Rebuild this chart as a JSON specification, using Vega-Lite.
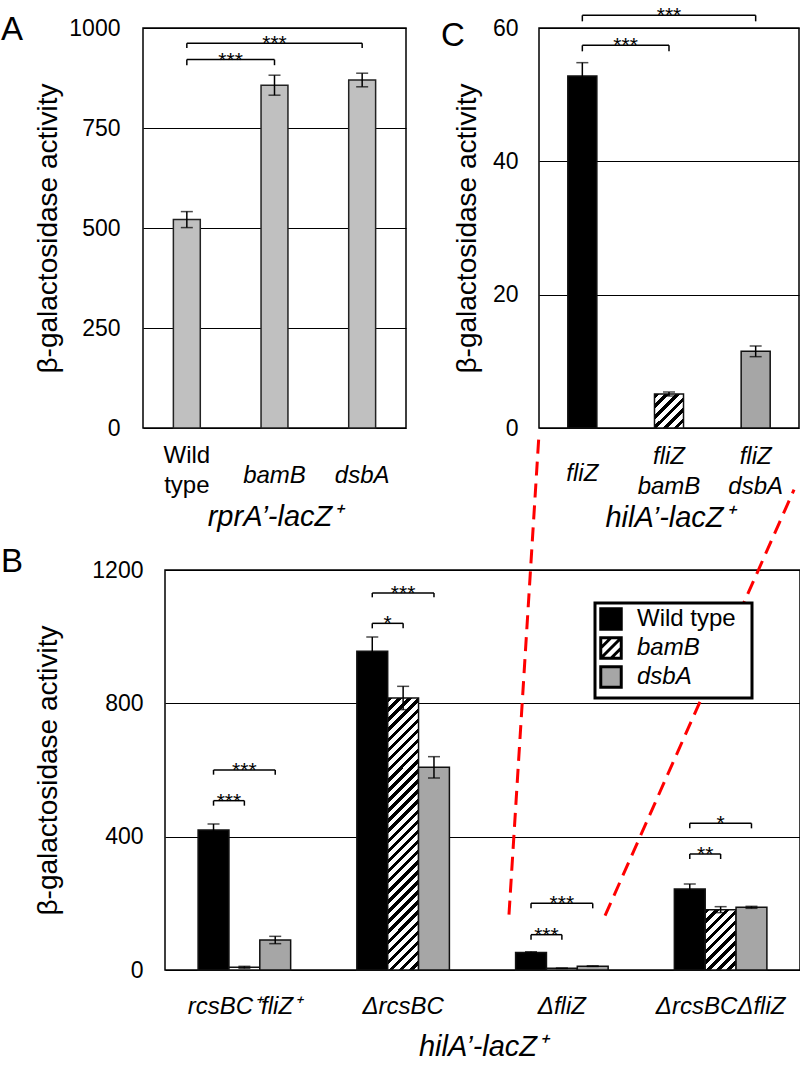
{
  "$schema": "https://vega.github.io/schema/vega-lite/v6.json",
  "background": "white",
  "padding": {"left": 0, "top": 4, "right": 0, "bottom": 0},
  "config": {
    "font": "Liberation Sans",
    "view": {"stroke": "black", "strokeWidth": 1.5},
    "axis": {"ticks": false, "domain": false, "labelColor": "black", "titleColor": "black", "labelFont": "Liberation Sans", "titleFont": "Liberation Sans", "titleFontWeight": "normal", "gridColor": "black", "gridWidth": 1, "gridOpacity": 1},
    "title": {"font": "Liberation Sans", "fontWeight": "normal", "fontSize": 33, "color": "black", "anchor": "start", "frame": "group", "baseline": "top", "offset": 0}
  },
  "datasets": {
    "aBars": [
      {"strain": "Wild type", "value": 521, "err": 20},
      {"strain": "bamB", "value": 857, "err": 25},
      {"strain": "dsbA", "value": 870, "err": 17}
    ],
    "aBr": [
      {"id": "a1", "from": "Wild type", "to": "bamB", "y": 921, "low": 907, "label": "***"},
      {"id": "a2", "from": "Wild type", "to": "dsbA", "y": 962, "low": 950, "label": "***"}
    ],
    "cBars": [
      {"strain": "fliZ", "value": 52.8, "err": 2},
      {"strain": "fliZ bamB", "value": 5.1, "err": 0.3},
      {"strain": "fliZ dsbA", "value": 11.5, "err": 0.8}
    ],
    "cBr": [
      {"id": "c1", "from": "fliZ", "to": "fliZ bamB", "y": 57.4, "low": 56.5, "label": "***"},
      {"id": "c2", "from": "fliZ", "to": "fliZ dsbA", "y": 61.9, "low": 61.0, "label": "***"}
    ],
    "bBars": [
      {"group": "rcsBC⁺fliZ⁺", "series": "Wild type", "value": 420, "err": 18},
      {"group": "rcsBC⁺fliZ⁺", "series": "bamB", "value": 8, "err": 3},
      {"group": "rcsBC⁺fliZ⁺", "series": "dsbA", "value": 90, "err": 11},
      {"group": "ΔrcsBC", "series": "Wild type", "value": 956, "err": 43},
      {"group": "ΔrcsBC", "series": "bamB", "value": 816, "err": 35},
      {"group": "ΔrcsBC", "series": "dsbA", "value": 608, "err": 32},
      {"group": "ΔfliZ", "series": "Wild type", "value": 52.8, "err": 2},
      {"group": "ΔfliZ", "series": "bamB", "value": 5.1, "err": 0.3},
      {"group": "ΔfliZ", "series": "dsbA", "value": 11.5, "err": 0.8},
      {"group": "ΔrcsBCΔfliZ", "series": "Wild type", "value": 243, "err": 15},
      {"group": "ΔrcsBCΔfliZ", "series": "bamB", "value": 181, "err": 9},
      {"group": "ΔrcsBCΔfliZ", "series": "dsbA", "value": 188, "err": 3}
    ],
    "bBr": [
      {"id": "b1", "group": "rcsBC⁺fliZ⁺", "from": "Wild type", "to": "bamB", "y": 508, "low": 493, "label": "***"},
      {"id": "b2", "group": "rcsBC⁺fliZ⁺", "from": "Wild type", "to": "dsbA", "y": 600, "low": 586, "label": "***"},
      {"id": "b3", "group": "ΔrcsBC", "from": "Wild type", "to": "bamB", "y": 1040, "low": 1025, "label": "*"},
      {"id": "b4", "group": "ΔrcsBC", "from": "Wild type", "to": "dsbA", "y": 1131, "low": 1118, "label": "***"},
      {"id": "b5", "group": "ΔfliZ", "from": "Wild type", "to": "bamB", "y": 106, "low": 91, "label": "***"},
      {"id": "b6", "group": "ΔfliZ", "from": "Wild type", "to": "dsbA", "y": 200, "low": 185, "label": "***"},
      {"id": "b7", "group": "ΔrcsBCΔfliZ", "from": "Wild type", "to": "bamB", "y": 348, "low": 333, "label": "**"},
      {"id": "b8", "group": "ΔrcsBCΔfliZ", "from": "Wild type", "to": "dsbA", "y": 440, "low": 425, "label": "*"}
    ],
    "connectors": [
      {"seg": "left", "px": 0.589, "y": 1609},
      {"seg": "left", "px": 0.5417, "y": 166},
      {"seg": "right", "px": 0.9906, "y": 1441},
      {"seg": "right", "px": 0.693, "y": 163}
    ]
  },
  "spacing": 542,
  "bounds": "flush",
  "vconcat": [
    {
      "spacing": 133,
      "bounds": "flush",
      "hconcat": [
        {
          "width": 263,
          "height": 400,
          "title": {"text": "A", "dx": -142, "dy": 34},
          "layer": [
            {
              "data": {"name": "aBars"},
              "mark": {"type": "bar", "fill": "#c0c0c0", "stroke": "#222", "strokeWidth": 1.5},
              "encoding": {
                "x": {"field": "strain", "type": "nominal", "sort": null, "title": "rprA’-lacZ⁺",
                  "scale": {"domain": ["Wild type", "bamB", "dsbA"], "paddingInner": 0.693, "paddingOuter": 0.3465},
                  "axis": {"labelAngle": 0, "labelFontSize": 24, "labelBaseline": "middle", "labelLineHeight": 30,
                    "labelPadding": {"condition": {"test": "datum.value === 'Wild type'", "value": 27}, "value": 47},
                    "labelFontStyle": {"condition": {"test": "datum.value === 'Wild type'", "value": "normal"}, "value": "italic"},
                    "labelExpr": "datum.value === 'Wild type' ? ['Wild', 'type'] : datum.value",
                    "titleFontSize": 29, "titleFontStyle": "italic", "titlePadding": 5, "grid": false}},
                "y": {"field": "value", "type": "quantitative", "title": "β-galactosidase activity",
                  "scale": {"domain": [0, 1000], "nice": false},
                  "axis": {"values": [0, 250, 500, 750, 1000], "format": "d", "labelFontSize": 23, "labelPadding": 23, "titleFontSize": 28, "titlePadding": 6, "grid": true}}
              }
            },
            {
              "data": {"name": "aBars"},
              "mark": {"type": "errorbar", "ticks": true, "size": 12, "thickness": 1.5, "color": "black"},
              "encoding": {
                "x": {"field": "strain", "type": "nominal", "title": "rprA’-lacZ⁺"},
                "y": {"field": "value", "type": "quantitative", "title": "β-galactosidase activity"},
                "yError": {"field": "err"}
              }
            },
            {
              "data": {"name": "aBr"},
              "transform": [{"fold": ["from", "to"], "as": ["end", "series"]}],
              "mark": {"type": "line", "color": "black", "strokeWidth": 1.5},
              "encoding": {
                "x": {"field": "series", "type": "nominal", "title": "rprA’-lacZ⁺"},
                "y": {"field": "y", "type": "quantitative", "title": "β-galactosidase activity"},
                "detail": {"field": "id"}
              }
            },
            {
              "data": {"name": "aBr"},
              "transform": [{"fold": ["from", "to"], "as": ["end", "series"]}],
              "mark": {"type": "rule", "color": "black", "strokeWidth": 1.5},
              "encoding": {
                "x": {"field": "series", "type": "nominal", "title": "rprA’-lacZ⁺"},
                "y": {"field": "low", "type": "quantitative", "title": "β-galactosidase activity"},
                "y2": {"field": "y"}
              }
            },
            {
              "data": {"name": "aBr"},
              "transform": [{"filter": "datum.to === 'bamB'"}],
              "mark": {"type": "text", "dx": 43.8, "dy": 7, "baseline": "alphabetic", "fontSize": 21, "font": "Liberation Sans", "color": "black"},
              "encoding": {
                "x": {"field": "from", "type": "nominal", "title": "rprA’-lacZ⁺"},
                "y": {"field": "y", "type": "quantitative", "title": "β-galactosidase activity"},
                "text": {"field": "label"}
              }
            },
            {
              "data": {"name": "aBr"},
              "transform": [{"filter": "datum.to === 'dsbA'"}],
              "mark": {"type": "text", "dx": 87.7, "dy": 7, "baseline": "alphabetic", "fontSize": 21, "font": "Liberation Sans", "color": "black"},
              "encoding": {
                "x": {"field": "from", "type": "nominal", "title": "rprA’-lacZ⁺"},
                "y": {"field": "y", "type": "quantitative", "title": "β-galactosidase activity"},
                "text": {"field": "label"}
              }
            }
          ]
        },
        {
          "width": 260,
          "height": 400,
          "title": {"text": "C", "dx": -98, "dy": 52},
          "layer": [
            {
              "data": {"name": "cBars"},
              "mark": {"type": "bar", "stroke": "#111", "strokeWidth": 1.5},
              "encoding": {
                "x": {"field": "strain", "type": "nominal", "sort": null, "title": "hilA’-lacZ⁺",
                  "scale": {"domain": ["fliZ", "fliZ bamB", "fliZ dsbA"], "paddingInner": 0.665, "paddingOuter": 0.3325},
                  "axis": {"labelAngle": 0, "labelFontSize": 24, "labelFontStyle": "italic", "labelBaseline": "middle", "labelLineHeight": 30,
                    "labelPadding": {"condition": {"test": "indexof(datum.value, ' ') >= 0", "value": 28}, "value": 45},
                    "labelExpr": "split(datum.value, ' ')",
                    "titleFontSize": 29, "titleFontStyle": "italic", "titlePadding": 5, "grid": false}},
                "y": {"field": "value", "type": "quantitative", "title": "β-galactosidase activity",
                  "scale": {"domain": [0, 60], "nice": false},
                  "axis": {"values": [0, 20, 40, 60], "labelFontSize": 23, "labelPadding": 21, "titleFontSize": 28, "titlePadding": 11, "grid": true}},
                "fill": {
                  "condition": [
                    {"test": "datum.strain === 'fliZ'", "value": "black"},
                    {"test": "datum.strain === 'fliZ bamB'", "value": {"gradient": "linear", "x1": 0, "y1": 0, "x2": 0.9155, "y2": 1.0722, "stops": [{"offset":0,"color":"#000"},{"offset":0.075,"color":"#000"},{"offset":0.075,"color":"#fff"},{"offset":0.1667,"color":"#fff"},{"offset":0.1667,"color":"#000"},{"offset":0.2417,"color":"#000"},{"offset":0.2417,"color":"#fff"},{"offset":0.3333,"color":"#fff"},{"offset":0.3333,"color":"#000"},{"offset":0.4083,"color":"#000"},{"offset":0.4083,"color":"#fff"},{"offset":0.5,"color":"#fff"},{"offset":0.5,"color":"#000"},{"offset":0.575,"color":"#000"},{"offset":0.575,"color":"#fff"},{"offset":0.6667,"color":"#fff"},{"offset":0.6667,"color":"#000"},{"offset":0.7417,"color":"#000"},{"offset":0.7417,"color":"#fff"},{"offset":0.8333,"color":"#fff"},{"offset":0.8333,"color":"#000"},{"offset":0.9083,"color":"#000"},{"offset":0.9083,"color":"#fff"},{"offset":1,"color":"#fff"}]}}
                  ],
                  "value": "#a6a6a6"
                }
              }
            },
            {
              "data": {"name": "cBars"},
              "mark": {"type": "errorbar", "ticks": true, "size": 12, "thickness": 1.5, "color": "black"},
              "encoding": {
                "x": {"field": "strain", "type": "nominal", "title": "hilA’-lacZ⁺"},
                "y": {"field": "value", "type": "quantitative", "title": "β-galactosidase activity"},
                "yError": {"field": "err"}
              }
            },
            {
              "data": {"name": "cBr"},
              "transform": [{"fold": ["from", "to"], "as": ["end", "series"]}],
              "mark": {"type": "line", "color": "black", "strokeWidth": 1.5},
              "encoding": {
                "x": {"field": "series", "type": "nominal", "title": "hilA’-lacZ⁺"},
                "y": {"field": "y", "type": "quantitative", "title": "β-galactosidase activity"},
                "detail": {"field": "id"}
              }
            },
            {
              "data": {"name": "cBr"},
              "transform": [{"fold": ["from", "to"], "as": ["end", "series"]}],
              "mark": {"type": "rule", "color": "black", "strokeWidth": 1.5},
              "encoding": {
                "x": {"field": "series", "type": "nominal", "title": "hilA’-lacZ⁺"},
                "y": {"field": "low", "type": "quantitative", "title": "β-galactosidase activity"},
                "y2": {"field": "y"}
              }
            },
            {
              "data": {"name": "cBr"},
              "transform": [{"filter": "datum.to === 'fliZ bamB'"}],
              "mark": {"type": "text", "dx": 43.3, "dy": 7, "baseline": "alphabetic", "fontSize": 21, "font": "Liberation Sans", "color": "black"},
              "encoding": {
                "x": {"field": "from", "type": "nominal", "title": "hilA’-lacZ⁺"},
                "y": {"field": "y", "type": "quantitative", "title": "β-galactosidase activity"},
                "text": {"field": "label"}
              }
            },
            {
              "data": {"name": "cBr"},
              "transform": [{"filter": "datum.to === 'fliZ dsbA'"}],
              "mark": {"type": "text", "dx": 86.7, "dy": 7, "baseline": "alphabetic", "fontSize": 21, "font": "Liberation Sans", "color": "black"},
              "encoding": {
                "x": {"field": "from", "type": "nominal", "title": "hilA’-lacZ⁺"},
                "y": {"field": "y", "type": "quantitative", "title": "β-galactosidase activity"},
                "text": {"field": "label"}
              }
            }
          ]
        }
      ]
    },
    {
      "spacing": 21,
      "bounds": "flush",
      "hconcat": [
        {
          "width": 1,
          "height": 400,
          "view": {"stroke": null},
          "data": {"values": [{"a": 0}]},
          "mark": {"type": "point", "opacity": 0},
          "encoding": {}
        },
        {
          "width": 635,
          "height": 400,
          "title": {"text": "B", "dx": -164, "dy": 155},
          "resolve": {"scale": {"x": "independent"}},
          "layer": [
            {
              "layer": [
                {
                  "data": {"name": "bBars"},
                  "mark": {"type": "bar", "stroke": "#111", "strokeWidth": 1.5},
                  "encoding": {
                    "x": {"field": "group", "type": "nominal", "sort": null, "title": "hilA’-lacZ⁺",
                      "scale": {"domain": ["rcsBC⁺fliZ⁺", "ΔrcsBC", "ΔfliZ", "ΔrcsBCΔfliZ"], "paddingInner": 0.417, "paddingOuter": 0.2085},
                      "axis": {"labelAngle": 0, "labelFontSize": 24, "labelFontStyle": "italic", "labelBaseline": "middle", "labelPadding": 36,
                        "titleFontSize": 29, "titleFontStyle": "italic", "titlePadding": 14, "grid": false}},
                    "xOffset": {"field": "series", "type": "nominal", "sort": null,
                      "scale": {"domain": ["Wild type", "bamB", "dsbA"], "paddingInner": 0, "paddingOuter": 0}},
                    "y": {"field": "value", "type": "quantitative", "title": "β-galactosidase activity",
                      "scale": {"domain": [0, 1200], "nice": false},
                      "axis": {"values": [0, 400, 800, 1200], "format": "d", "labelFontSize": 23, "labelPadding": 22, "titleFontSize": 28, "titlePadding": 29, "grid": true}},
                    "fill": {
                      "field": "series", "type": "nominal",
                      "condition": [
                        {"test": "datum.series === 'bamB' && datum.group === 'ΔrcsBC'", "value": {"gradient": "linear", "x1": 0, "y1": 0, "x2": 0.1249, "y2": 1.0994, "stops": [{"offset":0,"color":"#000"},{"offset":0.015,"color":"#000"},{"offset":0.015,"color":"#fff"},{"offset":0.0333,"color":"#fff"},{"offset":0.0333,"color":"#000"},{"offset":0.0483,"color":"#000"},{"offset":0.0483,"color":"#fff"},{"offset":0.0667,"color":"#fff"},{"offset":0.0667,"color":"#000"},{"offset":0.0817,"color":"#000"},{"offset":0.0817,"color":"#fff"},{"offset":0.1,"color":"#fff"},{"offset":0.1,"color":"#000"},{"offset":0.115,"color":"#000"},{"offset":0.115,"color":"#fff"},{"offset":0.1333,"color":"#fff"},{"offset":0.1333,"color":"#000"},{"offset":0.1483,"color":"#000"},{"offset":0.1483,"color":"#fff"},{"offset":0.1667,"color":"#fff"},{"offset":0.1667,"color":"#000"},{"offset":0.1817,"color":"#000"},{"offset":0.1817,"color":"#fff"},{"offset":0.2,"color":"#fff"},{"offset":0.2,"color":"#000"},{"offset":0.215,"color":"#000"},{"offset":0.215,"color":"#fff"},{"offset":0.2333,"color":"#fff"},{"offset":0.2333,"color":"#000"},{"offset":0.2483,"color":"#000"},{"offset":0.2483,"color":"#fff"},{"offset":0.2667,"color":"#fff"},{"offset":0.2667,"color":"#000"},{"offset":0.2817,"color":"#000"},{"offset":0.2817,"color":"#fff"},{"offset":0.3,"color":"#fff"},{"offset":0.3,"color":"#000"},{"offset":0.315,"color":"#000"},{"offset":0.315,"color":"#fff"},{"offset":0.3333,"color":"#fff"},{"offset":0.3333,"color":"#000"},{"offset":0.3483,"color":"#000"},{"offset":0.3483,"color":"#fff"},{"offset":0.3667,"color":"#fff"},{"offset":0.3667,"color":"#000"},{"offset":0.3817,"color":"#000"},{"offset":0.3817,"color":"#fff"},{"offset":0.4,"color":"#fff"},{"offset":0.4,"color":"#000"},{"offset":0.415,"color":"#000"},{"offset":0.415,"color":"#fff"},{"offset":0.4333,"color":"#fff"},{"offset":0.4333,"color":"#000"},{"offset":0.4483,"color":"#000"},{"offset":0.4483,"color":"#fff"},{"offset":0.4667,"color":"#fff"},{"offset":0.4667,"color":"#000"},{"offset":0.4817,"color":"#000"},{"offset":0.4817,"color":"#fff"},{"offset":0.5,"color":"#fff"},{"offset":0.5,"color":"#000"},{"offset":0.515,"color":"#000"},{"offset":0.515,"color":"#fff"},{"offset":0.5333,"color":"#fff"},{"offset":0.5333,"color":"#000"},{"offset":0.5483,"color":"#000"},{"offset":0.5483,"color":"#fff"},{"offset":0.5667,"color":"#fff"},{"offset":0.5667,"color":"#000"},{"offset":0.5817,"color":"#000"},{"offset":0.5817,"color":"#fff"},{"offset":0.6,"color":"#fff"},{"offset":0.6,"color":"#000"},{"offset":0.615,"color":"#000"},{"offset":0.615,"color":"#fff"},{"offset":0.6333,"color":"#fff"},{"offset":0.6333,"color":"#000"},{"offset":0.6483,"color":"#000"},{"offset":0.6483,"color":"#fff"},{"offset":0.6667,"color":"#fff"},{"offset":0.6667,"color":"#000"},{"offset":0.6817,"color":"#000"},{"offset":0.6817,"color":"#fff"},{"offset":0.7,"color":"#fff"},{"offset":0.7,"color":"#000"},{"offset":0.715,"color":"#000"},{"offset":0.715,"color":"#fff"},{"offset":0.7333,"color":"#fff"},{"offset":0.7333,"color":"#000"},{"offset":0.7483,"color":"#000"},{"offset":0.7483,"color":"#fff"},{"offset":0.7667,"color":"#fff"},{"offset":0.7667,"color":"#000"},{"offset":0.7817,"color":"#000"},{"offset":0.7817,"color":"#fff"},{"offset":0.8,"color":"#fff"},{"offset":0.8,"color":"#000"},{"offset":0.815,"color":"#000"},{"offset":0.815,"color":"#fff"},{"offset":0.8333,"color":"#fff"},{"offset":0.8333,"color":"#000"},{"offset":0.8483,"color":"#000"},{"offset":0.8483,"color":"#fff"},{"offset":0.8667,"color":"#fff"},{"offset":0.8667,"color":"#000"},{"offset":0.8817,"color":"#000"},{"offset":0.8817,"color":"#fff"},{"offset":0.9,"color":"#fff"},{"offset":0.9,"color":"#000"},{"offset":0.915,"color":"#000"},{"offset":0.915,"color":"#fff"},{"offset":0.9333,"color":"#fff"},{"offset":0.9333,"color":"#000"},{"offset":0.9483,"color":"#000"},{"offset":0.9483,"color":"#fff"},{"offset":0.9667,"color":"#fff"},{"offset":0.9667,"color":"#000"},{"offset":0.9817,"color":"#000"},{"offset":0.9817,"color":"#fff"},{"offset":1,"color":"#fff"}]}},
                        {"test": "datum.series === 'bamB' && datum.group === 'ΔrcsBCΔfliZ'", "value": {"gradient": "linear", "x1": 0, "y1": 0, "x2": 0.6133, "y2": 1.1975, "stops": [{"offset":0,"color":"#000"},{"offset":0.05,"color":"#000"},{"offset":0.05,"color":"#fff"},{"offset":0.1111,"color":"#fff"},{"offset":0.1111,"color":"#000"},{"offset":0.1611,"color":"#000"},{"offset":0.1611,"color":"#fff"},{"offset":0.2222,"color":"#fff"},{"offset":0.2222,"color":"#000"},{"offset":0.2722,"color":"#000"},{"offset":0.2722,"color":"#fff"},{"offset":0.3333,"color":"#fff"},{"offset":0.3333,"color":"#000"},{"offset":0.3833,"color":"#000"},{"offset":0.3833,"color":"#fff"},{"offset":0.4444,"color":"#fff"},{"offset":0.4444,"color":"#000"},{"offset":0.4944,"color":"#000"},{"offset":0.4944,"color":"#fff"},{"offset":0.5556,"color":"#fff"},{"offset":0.5556,"color":"#000"},{"offset":0.6056,"color":"#000"},{"offset":0.6056,"color":"#fff"},{"offset":0.6667,"color":"#fff"},{"offset":0.6667,"color":"#000"},{"offset":0.7167,"color":"#000"},{"offset":0.7167,"color":"#fff"},{"offset":0.7778,"color":"#fff"},{"offset":0.7778,"color":"#000"},{"offset":0.8278,"color":"#000"},{"offset":0.8278,"color":"#fff"},{"offset":0.8889,"color":"#fff"},{"offset":0.8889,"color":"#000"},{"offset":0.9389,"color":"#000"},{"offset":0.9389,"color":"#fff"},{"offset":1,"color":"#fff"}]}}
                      ],
                      "scale": {"domain": ["Wild type", "bamB", "dsbA"], "range": ["black", "white", "#a6a6a6"]},
                      "legend": {
                        "title": " ", "titleOrient": "right", "titlePadding": 12, "titleFontSize": 24,
                        "orient": "none", "legendX": 452, "legendY": 575,
                        "labelFontSize": 24, "labelFont": "Liberation Sans", "labelColor": "black",
                        "symbolType": "square", "symbolSize": 420, "symbolStrokeColor": "black", "symbolStrokeWidth": 3, "symbolOpacity": 1,
                        "rowPadding": -7, "labelOffset": 14, "padding": 4, "symbolOffset": 0,
                        "fillColor": "white", "strokeColor": "black",
                        "encode": {
                          "legend": {"update": {"strokeWidth": {"value": 3}}},
                          "labels": {"update": {"fontStyle": {"signal": "datum.value === 'Wild type' ? 'normal' : 'italic'"}}},
                          "symbols": {"update": {
                            "stroke": {"value": "black"},
                            "strokeWidth": {"value": 3},
                            "shape": {"signal": "datum.value === 'bamB' ? 'M-1,-1H1V1H-1Z M-1,0L0,-1 M-1,1L1,-1 M0,1L1,0' : 'square'"}
                          }}
                        }
                      }
                    }
                  }
                },
                {
                  "data": {"name": "bBars"},
                  "mark": {"type": "errorbar", "ticks": true, "size": 12, "thickness": 1.5, "color": "black"},
                  "encoding": {
                    "x": {"field": "group", "type": "nominal", "title": "hilA’-lacZ⁺"},
                    "xOffset": {"field": "series", "type": "nominal"},
                    "y": {"field": "value", "type": "quantitative", "title": "β-galactosidase activity"},
                    "yError": {"field": "err"}
                  }
                },
                {
                  "data": {"name": "bBr"},
                  "transform": [{"fold": ["from", "to"], "as": ["end", "series"]}],
                  "mark": {"type": "line", "color": "black", "strokeWidth": 1.5},
                  "encoding": {
                    "x": {"field": "group", "type": "nominal", "title": "hilA’-lacZ⁺"},
                    "xOffset": {"field": "series", "type": "nominal"},
                    "y": {"field": "y", "type": "quantitative", "title": "β-galactosidase activity"},
                    "detail": {"field": "id"}
                  }
                },
                {
                  "data": {"name": "bBr"},
                  "transform": [{"fold": ["from", "to"], "as": ["end", "series"]}],
                  "mark": {"type": "rule", "color": "black", "strokeWidth": 1.5},
                  "encoding": {
                    "x": {"field": "group", "type": "nominal", "title": "hilA’-lacZ⁺"},
                    "xOffset": {"field": "series", "type": "nominal"},
                    "y": {"field": "low", "type": "quantitative", "title": "β-galactosidase activity"},
                    "y2": {"field": "y"}
                  }
                },
                {
                  "data": {"name": "bBr"},
                  "transform": [{"filter": "datum.to === 'bamB'"}],
                  "mark": {"type": "text", "dx": 15.4, "dy": 7, "baseline": "alphabetic", "fontSize": 21, "font": "Liberation Sans", "color": "black"},
                  "encoding": {
                    "x": {"field": "group", "type": "nominal", "title": "hilA’-lacZ⁺"},
                    "xOffset": {"field": "from", "type": "nominal"},
                    "y": {"field": "y", "type": "quantitative", "title": "β-galactosidase activity"},
                    "text": {"field": "label"}
                  }
                },
                {
                  "data": {"name": "bBr"},
                  "transform": [{"filter": "datum.to === 'dsbA'"}],
                  "mark": {"type": "text", "dx": 30.85, "dy": 7, "baseline": "alphabetic", "fontSize": 21, "font": "Liberation Sans", "color": "black"},
                  "encoding": {
                    "x": {"field": "group", "type": "nominal", "title": "hilA’-lacZ⁺"},
                    "xOffset": {"field": "from", "type": "nominal"},
                    "y": {"field": "y", "type": "quantitative", "title": "β-galactosidase activity"},
                    "text": {"field": "label"}
                  }
                }
              ]
            },
            {
              "data": {"name": "connectors"},
              "mark": {"type": "line", "color": "#ff0000", "strokeWidth": 3, "strokeDash": [14, 8], "clip": false},
              "encoding": {
                "x": {"field": "px", "type": "quantitative", "scale": {"domain": [0, 1], "nice": false}, "axis": null},
                "y": {"field": "y", "type": "quantitative", "title": "β-galactosidase activity", "scale": {"domain": [0, 1200], "nice": false}},
                "detail": {"field": "seg"}
              }
            }
          ]
        }
      ]
    }
  ]
}
